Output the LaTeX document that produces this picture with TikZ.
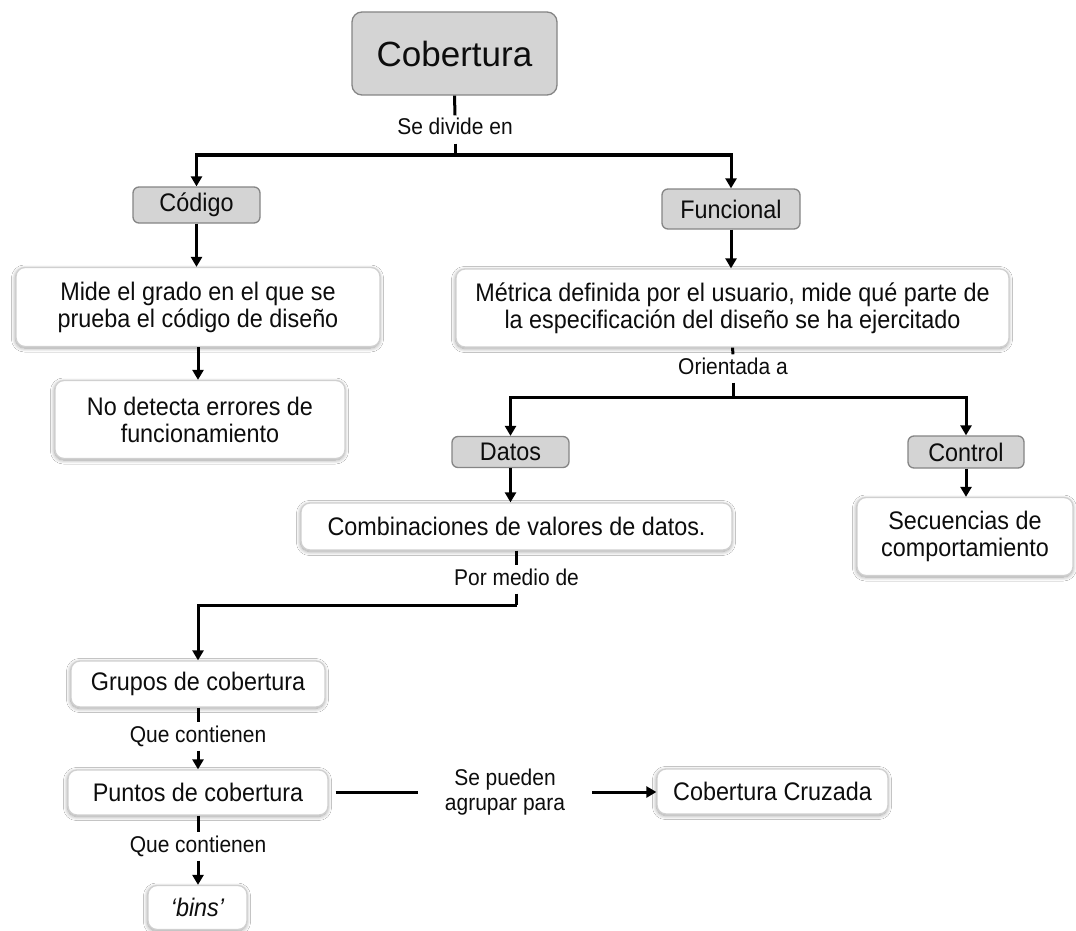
\documentclass[tikz,border=0pt]{standalone}
\usepackage{fontspec}
\setmainfont{Liberation Sans}
\newfontfamily\narrowsans[FakeStretch=0.92]{Liberation Sans}
\usetikzlibrary{arrows.meta,shadows.blur}
\definecolor{boxgray}{HTML}{D4D4D4}
\definecolor{edgegray}{HTML}{858585}
\definecolor{wedge}{HTML}{D0D0D0}
\definecolor{ink}{HTML}{0D0D0D}

\begin{document}
\begin{tikzpicture}[x=1pt,y=-1pt,
  every node/.style={font=\narrowsans\fontsize{25.4}{27}\selectfont, text=ink, inner sep=0pt},
  graybox/.style={draw=edgegray, line width=1.3pt, fill=boxgray, rounded corners=6pt},
  whitebox/.style={draw=wedge, line width=1.3pt, fill=white, rounded corners=9pt, align=center,
    blur shadow={shadow xshift=-0.5pt, shadow yshift=-1.5pt, shadow blur radius=4pt,
                 shadow blur steps=8, shadow opacity=40}},
  conn/.style={line width=3pt, draw=black},
  arr/.style={conn, -{Triangle[length=10pt,width=11pt]}},
  lbl/.style={font=\narrowsans\fontsize{22.8}{25}\selectfont, fill=white, inner xsep=2pt, inner ysep=4pt,
              text height=15.5pt, text depth=4.5pt, anchor=base},
]
\useasboundingbox (0,0) rectangle (1076,931);
\fill[white] (0,0) rectangle (1076,931);

% top level
\node[graybox, rounded corners=10pt, minimum width=205pt, minimum height=83pt,
      font=\rmfamily\fontsize{35}{40}\selectfont] (cob) at (454.5,53.5) {Cobertura};
\node[lbl] (l1) at (455,135) {Se divide en};

% code coverage branch
\node[graybox, minimum width=127pt, minimum height=36pt] (cod) at (196.5,205) {Código};
\node[whitebox, minimum width=364pt, minimum height=79pt] (mide) at (198,307)
  {Mide el grado en el que se\\prueba el código de diseño};
\node[whitebox, minimum width=290pt, minimum height=78pt] (nod) at (200,419.5)
  {No detecta errores de\\funcionamiento};

% functional coverage branch
\node[graybox, minimum width=138pt, minimum height=40pt] (fun) at (731,209) {Funcional};
\node[whitebox, minimum width=553pt, minimum height=78pt] (met) at (732.5,308)
  {Métrica definida por el usuario, mide qué parte de\\la especificación del diseño se ha ejercitado};
\node[lbl] (l2) at (733,374) {Orientada a};

\node[graybox, minimum width=117pt, minimum height=31pt] (dat) at (510.5,452) {Datos};
\node[graybox, minimum width=116pt, minimum height=32pt] (ctl) at (966,452) {Control};
\node[whitebox, minimum width=431pt, minimum height=47pt] (comb) at (516.5,526.5)
  {Combinaciones de valores de datos.};
\node[whitebox, minimum width=216pt, minimum height=78pt] (sec) at (965,536.5)
  {Secuencias de\\comportamiento};
\node[lbl] (l3) at (516.5,585) {Por medio de};

% covergroups, coverpoints and bins
\node[whitebox, minimum width=254pt, minimum height=46pt] (gru) at (198,684) {Grupos de cobertura};
\node[lbl] (l4) at (198,742) {Que contienen};
\node[whitebox, minimum width=260pt, minimum height=45pt] (pun) at (198,792.5) {Puntos de cobertura};
\node[lbl] (l5) at (198,852) {Que contienen};
\node[whitebox, minimum width=99pt, minimum height=44pt] (bins) at (197.5,907.5) {\itshape ‘bins’};
\node[font=\narrowsans\fontsize{22.8}{25}\selectfont, align=center, inner xsep=27pt] (sp) at (505,792)
  {Se pueden\\agrupar para};
\node[whitebox, minimum width=231pt, minimum height=45pt] (cc) at (772.5,791.5) {Cobertura Cruzada};

% connectors
\coordinate (j1) at (455,155);
\coordinate (j2) at (733,397);
\coordinate (j3) at (516.5,605);

\draw[conn] (cob.south) -- (l1.north);
\draw[conn] (l1.south) -- (j1);
\draw[arr] (j1) -| (cod.north);
\draw[arr] (j1) -| (fun.north);

\draw[arr] (cod.south) -- (cod.south |- mide.north);
\draw[arr] (mide.south) -- (mide.south |- nod.north);

\draw[arr] (fun.south) -- (fun.south |- met.north);
\draw[conn] (met.south) -- (l2.north);
\draw[conn] (l2.south) -- (j2);
\draw[arr] (j2) -| (dat.north);
\draw[arr] (j2) -| (ctl.north);
\draw[arr] (dat.south) -- (dat.south |- comb.north);
\draw[arr] (ctl.south) -- (ctl.south |- sec.north);

\draw[conn] (comb.south) -- (l3.north);
\draw[conn] (l3.south) -- (j3);
\draw[arr] (j3) -| (gru.north);

\draw[conn] (gru.south) -- (l4.north);
\draw[arr] (l4.south) -- (l4.south |- pun.north);
\draw[conn] (pun.south) -- (l5.north);
\draw[arr] (l5.south) -- (l5.south |- bins.north);

\draw[conn] ([xshift=7pt]pun.east |- sp.west) -- (sp.west);
\draw[arr] (sp.east) -- (sp.east -| cc.west);
\end{tikzpicture}
\end{document}
